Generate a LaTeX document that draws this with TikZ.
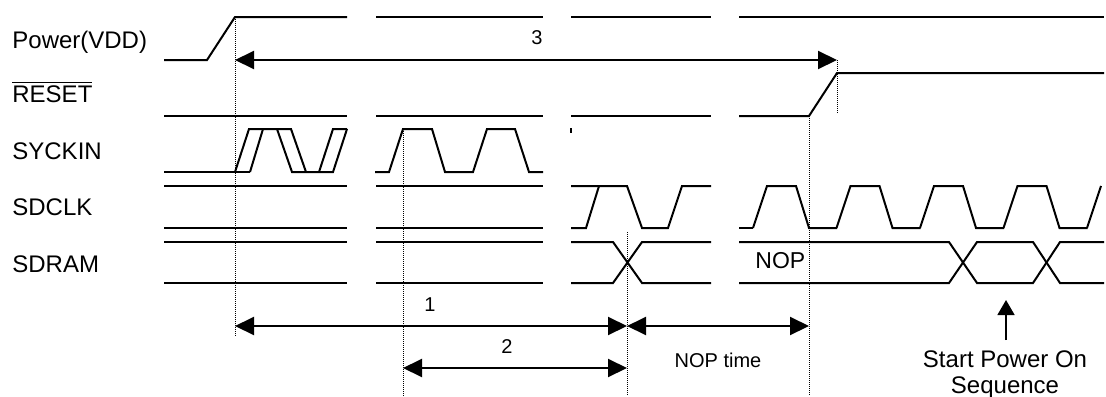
\documentclass[tikz,border=0pt]{standalone}
\usepackage{fontspec}
\setmainfont{Liberation Sans}
\usetikzlibrary{arrows.meta}

\begin{document}
\begin{tikzpicture}[x=0.5pt,y=-0.5pt,
		wave/.style={line width=1pt},
		marker/.style={line width=0.5pt, dash pattern=on 0.5pt off 0.5pt},
		span/.style={line width=1pt,
			{Triangle[length=9.5pt,width=9pt]}-{Triangle[length=9.5pt,width=9pt]}},
		pointer/.style={line width=0.8pt, -{Triangle[length=7.5pt,width=8.5pt]}},
		signame/.style={anchor=base west, inner sep=0pt, font=\fontsize{12}{14}\selectfont},
		spanlabel/.style={anchor=base, inner sep=0pt, font=\fontsize{10}{12}\selectfont}]
			\useasboundingbox (0,0) rectangle (1106,396);
			
			\node[signame] (vdd) at (12,48) {Power(VDD)};
			\node[signame] (rst) at (12,102) {$\overline{\mbox{RESET}}$};
			\node[signame] (syckin) at (12,159) {SYCKIN};
			\node[signame] (sdclk) at (12,215) {SDCLK};
			\node[signame] (sdram) at (12,272) {SDRAM};
			
			\draw[wave] (164,60) -- (207,60) -- (235,17) -- (347,17);
			\foreach \a/\b in {376/543,571/711,739/1104}
				\draw[wave] (\a,17) -- (\b,17);
			
			\foreach \a/\b in {164/347,376/543,571/711}
				\draw[wave] (\a,116) -- (\b,116);
			\draw[wave] (739,116) -- (809,116) -- (837,73) -- (1104,73);
			
			\draw[wave] (164,172) -- (250,172);
			\draw[wave] (235,172) -- (249,129) -- (291,129) -- (306,172);
			\draw[wave] (250,172) -- (263,129);
			\draw[wave] (277,129) -- (292,172) -- (333,172) -- (347,129);
			\draw[wave] (319,172) -- (333,129) -- (347,129);
			\draw[wave] (375,172) -- (389,172) -- (403,129) -- (432,129) -- (445,172)
				-- (473,172) -- (487,129) -- (515,129) -- (529,172) -- (543,172);
			\draw[wave] (571,128) -- (571,133);
			
			\foreach \a/\b in {164/347,376/543} {
				\draw[wave] (\a,186) -- (\b,186);
				\draw[wave] (\a,228) -- (\b,228);
				\draw[wave] (\a,242) -- (\b,242);
				\draw[wave] (\a,283) -- (\b,283);
			}
			\draw[wave] (571,186) -- (627,186) -- (642,228) -- (668,228) -- (682,186) -- (711,186);
			\draw[wave] (571,228) -- (586,228) -- (599,186);
			\draw[wave] (739,228) -- (753,228);
			\foreach \t in {753,836.5,920,1003.5}
				\draw[wave] (\t,228) -- (\t+14,186) -- (\t+43,186) -- (\t+56,228) -- (\t+84,228);
			\draw[wave] (1087,228) -- (1101,186);
			
			\draw[wave] (571,242) -- (613,242) -- (642,283) -- (711,283);
			\draw[wave] (571,283) -- (613,283) -- (642,242) -- (711,242);
			\draw[wave] (739,242) -- (949,242) -- (977,283) -- (1033,283) -- (1060,242) -- (1104,242);
			\draw[wave] (739,283) -- (949,283) -- (977,242) -- (1033,242) -- (1060,283) -- (1104,283);
			\node[anchor=base west, inner sep=0pt, font=\fontsize{11.5}{14}\selectfont] (nop) at (755,268) {NOP};
			
			\draw[marker] (235,17) -- (235,337);
			\draw[marker] (403,129) -- (403,396);
			\draw[marker] (627,232) -- (627,396);
			\draw[marker] (809,116) -- (809,396);
			\draw[marker] (837,60) -- (837,113);
			
			\coordinate (vddup) at (235,60);
			\coordinate (rstup) at (837,60);
			\coordinate (clkon) at (235,326);
			\coordinate (datax) at (627,326);
			\coordinate (nopend) at (809,326);
			\coordinate (syckup) at (403,368);
			\coordinate (dataxlow) at (627,368);
			\coordinate (seqtail) at (1006,340);
			\coordinate (seqtip) at (1006,300);
			
			\draw[span] (vddup) -- (rstup); \node[spanlabel] (three) at (537,44) {3};
			\draw[span] (clkon) -- (datax); \node[spanlabel] (one) at (430,311) {1};
			\draw[span] (syckup) -- (dataxlow); \node[spanlabel] (two) at (507,353) {2};
			\draw[span] (datax) -- (nopend); \node[spanlabel] (noptime) at (718,367) {NOP time};
			\draw[pointer] (seqtail) -- (seqtip);
			\node[anchor=base, inner sep=0pt, align=center, font=\fontsize{12}{13}\selectfont] (start)
				at (1005,393) {Start Power On\\Sequence};
			
		\end{tikzpicture}
\end{document}
